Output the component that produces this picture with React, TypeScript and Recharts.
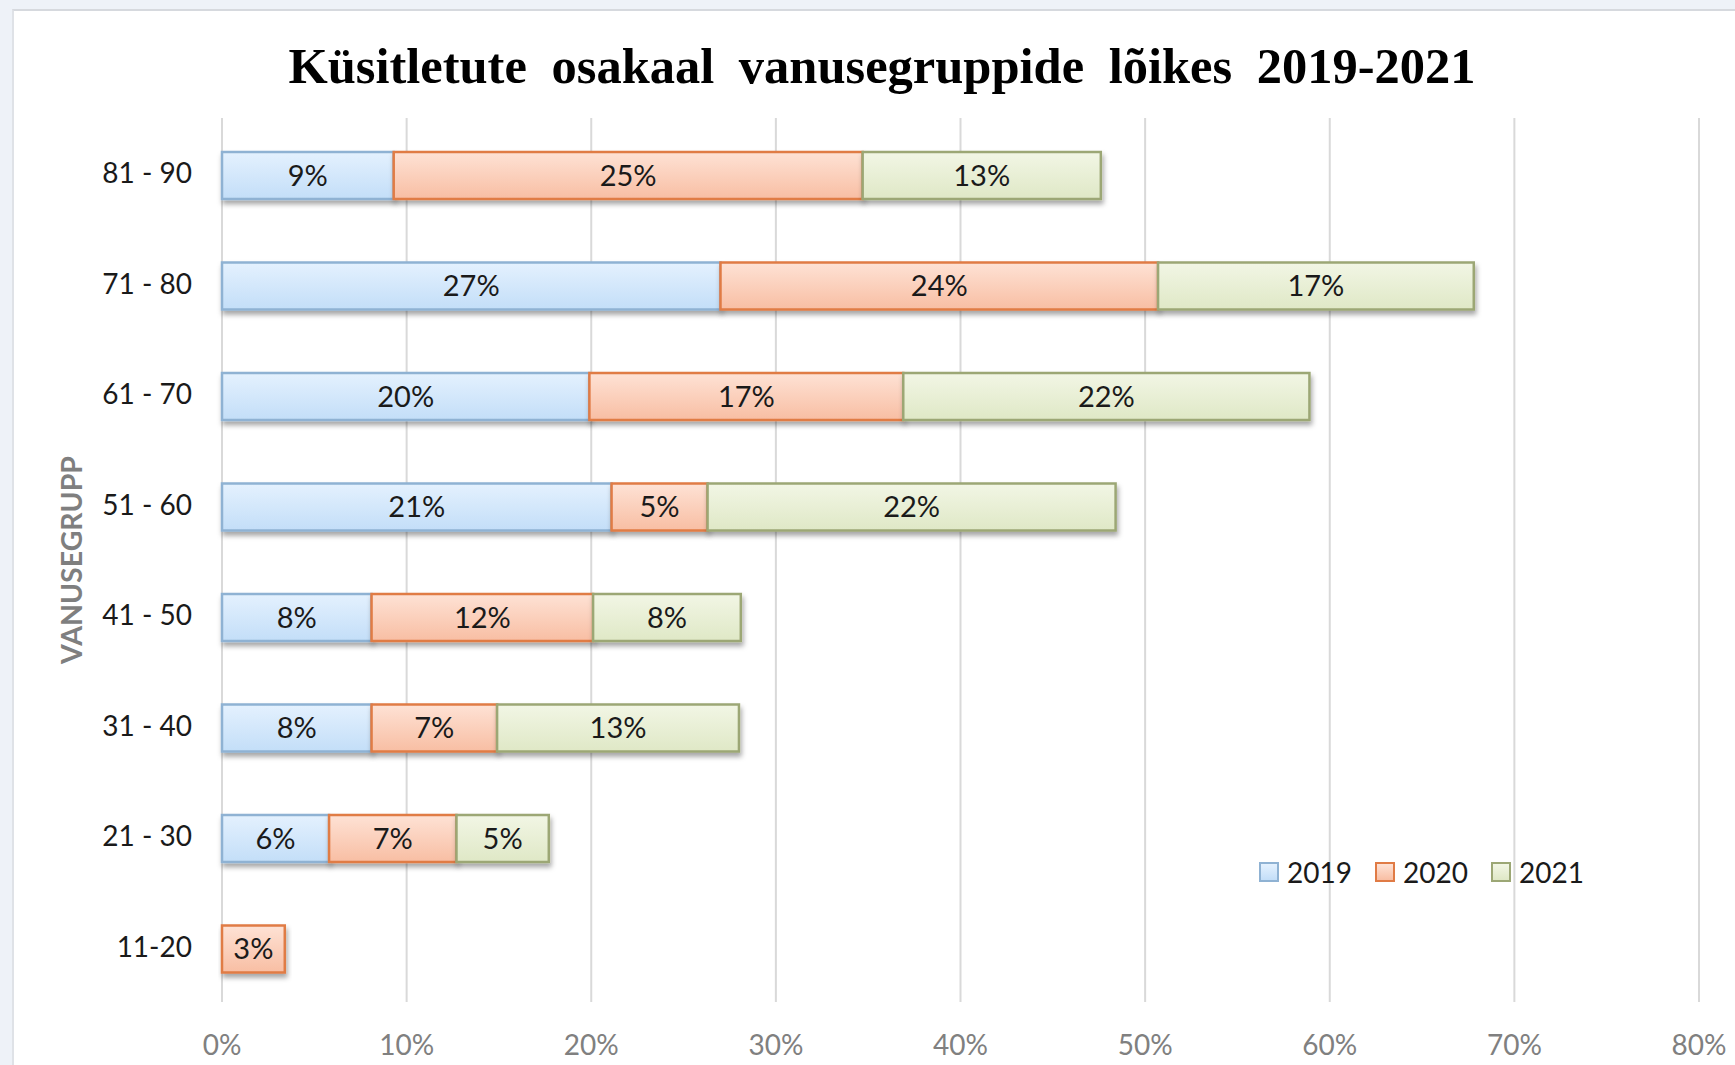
import React from 'react';
import { BarChart, Bar, XAxis, YAxis, CartesianGrid, LabelList } from 'recharts';

const categories = ['81 - 90', '71 - 80', '61 - 70', '51 - 60', '41 - 50', '31 - 40', '21 - 30', '11-20'];
const values2019 = [9.3, 27.0, 19.9, 21.1, 8.1, 8.1, 5.8, 0];
const values2020 = [25.4, 23.7, 17.0, 5.2, 12.0, 6.8, 6.9, 3.4];
const values2021 = [12.9, 17.1, 22.0, 22.1, 8.0, 13.1, 5.0, 0];
const seriesNames = ['2019', '2020', '2021'];
const xTicks = [0, 10, 20, 30, 40, 50, 60, 70, 80];
const titleText = 'Küsitletute osakaal vanusegruppide lõikes 2019-2021';
const yAxisTitle = 'VANUSEGRUPP';

const seriesStyle = [
  { top: '#e4f1fe', bottom: '#c3def8', stroke: '#8fb2d3' },
  { top: '#fee2d5', bottom: '#f8bea3', stroke: '#e07b45' },
  { top: '#f2f6e5', bottom: '#dfe8c6', stroke: '#9ca775' },
];

const data = categories.map((name, i) => ({
  name,
  s2019: values2019[i],
  s2020: values2020[i],
  s2021: values2021[i],
}));
const keys = ['s2019', 's2020', 's2021'];

const FONT = 'Lato, "Open Sans", sans-serif';

const makeShape = (idx: number) => (props: any) => {
  const { x, y, width, height } = props;
  if (!width || width <= 0.5) return <g />;
  return (
    <rect
      x={x}
      y={y + 2}
      width={width}
      height={height}
      fill={`url(#grad${idx})`}
      stroke={seriesStyle[idx].stroke}
      strokeWidth={2.5}
      filter="url(#barShadow)"
    />
  );
};

const fmtLabel = (v: any) => (v && Number(v) > 0 ? `${Math.round(Number(v))}%` : '');

const LegendBox = () => (
  <div
    style={{
      position: 'absolute',
      left: 1259,
      top: 857,
      display: 'flex',
      alignItems: 'center',
      fontFamily: FONT,
      fontSize: 28,
      color: '#1a1a1a',
    }}
  >
    {seriesNames.map((n, i) => (
      <div key={n} style={{ display: 'flex', alignItems: 'center', marginRight: 23 }}>
        <div
          style={{
            width: 16,
            height: 16,
            border: `2.5px solid ${seriesStyle[i].stroke}`,
            background: `linear-gradient(${seriesStyle[i].top}, ${seriesStyle[i].bottom})`,
            marginRight: 8,
          }}
        />
        <span style={{ lineHeight: '30px' }}>{n}</span>
      </div>
    ))}
  </div>
);

export default function App() {
  return (
    <div style={{ position: 'absolute', left: 0, top: 0, width: 1735, height: 1065, background: '#eef2f8', overflow: 'hidden' }}>
      <div
        style={{
          position: 'absolute',
          left: 12,
          top: 9,
          width: 1735,
          height: 1065,
          background: '#ffffff',
          borderTop: '2px solid #d6d9de',
          borderLeft: '2px solid #dfe2e7',
        }}
      />
      <div
        style={{
          position: 'absolute',
          left: 882,
          top: 38,
          transform: 'translateX(-50%)',
          whiteSpace: 'nowrap',
          fontFamily: '"Liberation Serif", "Times New Roman", serif',
          fontWeight: 700,
          fontSize: 50.5,
          lineHeight: '56px',
          wordSpacing: 12,
          color: '#000',
        }}
      >
        {titleText}
      </div>
      <div style={{ position: 'absolute', left: 0, top: 0 }}>
        <BarChart
          layout="vertical"
          width={1735}
          height={1065}
          data={data}
          margin={{ top: 118, right: 36, left: 13, bottom: 13 }}
          barSize={47}
        >
          <defs>
            {seriesStyle.map((s, i) => (
              <linearGradient key={i} id={`grad${i}`} x1="0" y1="0" x2="0" y2="1">
                <stop offset="0%" stopColor={s.top} />
                <stop offset="100%" stopColor={s.bottom} />
              </linearGradient>
            ))}
            <filter id="barShadow" x="-5%" y="-20%" width="115%" height="160%">
              <feDropShadow dx="1.5" dy="4" stdDeviation="2.5" floodColor="#000" floodOpacity="0.35" />
            </filter>
          </defs>
          <CartesianGrid horizontal={false} vertical stroke="#d9d9d9" strokeWidth={2} />
          <XAxis
            type="number"
            domain={[0, 80]}
            ticks={xTicks}
            interval={0}
            height={50}
            axisLine={false}
            tickLine={false}
            tickMargin={27}
            tickFormatter={(v: number) => `${v}%`}
            tick={{ fill: '#808080', fontSize: 28, fontFamily: FONT }}
          />
          <YAxis
            type="category"
            dataKey="name"
            width={209}
            axisLine={false}
            tickLine={false}
            tickMargin={24}
            interval={0}
            tick={{ fill: '#1a1a1a', fontSize: 28, fontFamily: FONT }}
            label={{
              content: (p: any) => {
                const vb = p.viewBox || {};
                const cx = (vb.x ?? 13) + 58;
                const cy = (vb.y ?? 118) + (vb.height ?? 884) / 2;
                return (
                  <text
                    x={cx}
                    y={cy}
                    transform={`rotate(-90, ${cx}, ${cy})`}
                    textAnchor="middle"
                    dominantBaseline="central"
                    fill="#7f7f7f"
                    fontFamily={FONT}
                    fontWeight={700}
                    fontSize={28.5}
                  >
                    {yAxisTitle}
                  </text>
                );
              },
            }}
          />
          {keys.map((k, i) => (
            <Bar
              key={k}
              dataKey={k}
              name={seriesNames[i]}
              stackId="a"
              fill={seriesStyle[i].bottom}
              isAnimationActive={false}
              shape={makeShape(i)}
            >
              <LabelList
                dataKey={k}
                position="center"
                formatter={fmtLabel}
                fill="#1a1a1a"
                fontSize={29}
                fontFamily={FONT}
                dy={2}
              />
            </Bar>
          ))}
        </BarChart>
      </div>
      <LegendBox />
    </div>
  );
}
